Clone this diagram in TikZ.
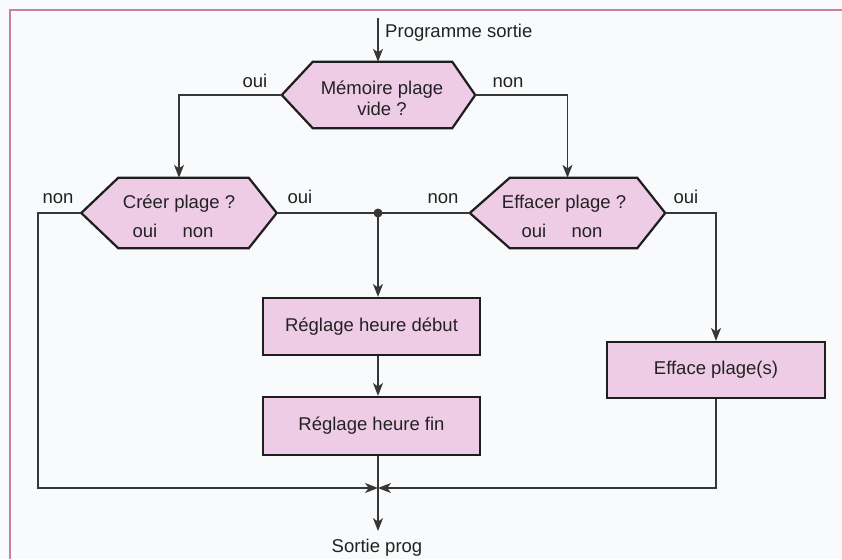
\documentclass[tikz,border=0pt]{standalone}
\usepackage{fontspec}
\setmainfont{Liberation Sans}
\usetikzlibrary{arrows.meta}
\definecolor{pinkfill}{HTML}{EECCE6}
\definecolor{linec}{HTML}{363636}
\definecolor{boxc}{HTML}{1E1E1E}
\definecolor{framec}{HTML}{CC7FA0}
\definecolor{bgc}{HTML}{F8FAFB}
\definecolor{txtc}{HTML}{222222}
\newdimen\px \px=0.03cm
\newcommand\hexa[3]{\path[boxline] (#1.west) -- ([xshift=#2\px]#1.north west) -- ([xshift=-#3\px]#1.north east) -- (#1.east) -- ([xshift=-#3\px]#1.south east) -- ([xshift=#2\px]#1.south west) -- cycle;}
\begin{document}
\begin{tikzpicture}[x=0.03cm,y=-0.03cm,
  font=\fontsize{15.8}{18}\selectfont,
  txt/.style={text=txtc, inner sep=0pt, anchor=base},
  shapebox/.style={draw=none, inner sep=0pt},
  boxline/.style={draw=boxc, fill=pinkfill, line width=1.9pt, line join=miter},
  rectbox/.style={boxline, inner sep=0pt, text=txtc},
  conn/.style={draw=linec, line width=1.2pt},
  arr/.style={conn, -{Stealth[length=11pt,width=8.5pt,inset=3pt]}}]
\useasboundingbox (0,0) rectangle (842,559);
\fill[bgc] (0,0) rectangle (842,559);
\draw[framec, line width=1.2pt] (10,559) -- (10,10) -- (842,10);

% decision nodes (outline drawn by \hexa)
\node[shapebox, minimum width=193\px, minimum height=66\px] (m) at (378.5,95) {};
\node[shapebox, minimum width=195\px, minimum height=70\px] (c) at (179,213) {};
\node[shapebox, minimum width=195\px, minimum height=70\px] (e) at (567.5,213) {};
\hexa{m}{31}{23}
\hexa{c}{37}{28}
\hexa{e}{40}{28}

\node[txt] (mt1) at (382,94) {Mémoire plage};
\node[txt] (mt2) at (382,115) {vide ?};
\node[txt] (ct1) at (179,208) {Créer plage ?};
\node[txt] (ct2) at (145,237) {oui};
\node[txt] (ct3) at (198,237) {non};
\node[txt] (et1) at (564,208) {Effacer plage ?};
\node[txt] (et2) at (534,237) {oui};
\node[txt] (et3) at (587,237) {non};

% process boxes
\node[rectbox, minimum width=217\px, minimum height=57\px] (r1) at (371.5,326.5) {Réglage heure début};
\node[rectbox, minimum width=217\px, minimum height=58\px] (r2) at (371.5,426) {Réglage heure fin};
\node[rectbox, minimum width=218\px, minimum height=56\px] (ef) at (716,370) {Efface plage(s)};

% coordinates
\coordinate (start) at (378,18);
\coordinate (dot) at (378,213);
\coordinate (merge) at (378,488);
\coordinate (bl) at (38,488);
\coordinate (out) at (378,531);

% connectors
\draw[arr] (start) -- (start |- m.north);
\draw[arr] (m.west) -| (c.north);
\draw[arr] (m.east) -| (e.north);
\draw[conn] (c.east) -- (dot);
\draw[conn] (e.west) -- (dot);
\fill[linec] (dot) circle[radius=4.5\px];
\draw[arr] (dot) -- (dot |- r1.north);
\draw[arr] (r1.south -| dot) -- (r2.north -| dot);
\draw[conn] (r2.south -| dot) -- (merge);
\draw[arr] (merge) -- (out);
\draw[arr] (c.west) -| (bl) -- (merge);
\draw[arr] (e.east) -| (ef.north);
\draw[arr] (ef.south) |- (merge);

% labels
\node[txt, anchor=base west] (lprog) at (385,37) {Programme sortie};
\node[txt] (l1) at (255,87) {oui};
\node[txt] (l2) at (508,87) {non};
\node[txt] (l3) at (58,203) {non};
\node[txt] (l4) at (300,203) {oui};
\node[txt] (l5) at (443,203) {non};
\node[txt] (l6) at (686,203) {oui};
\node[txt] (lout) at (377,552) {Sortie prog};
\end{tikzpicture}
\end{document}
